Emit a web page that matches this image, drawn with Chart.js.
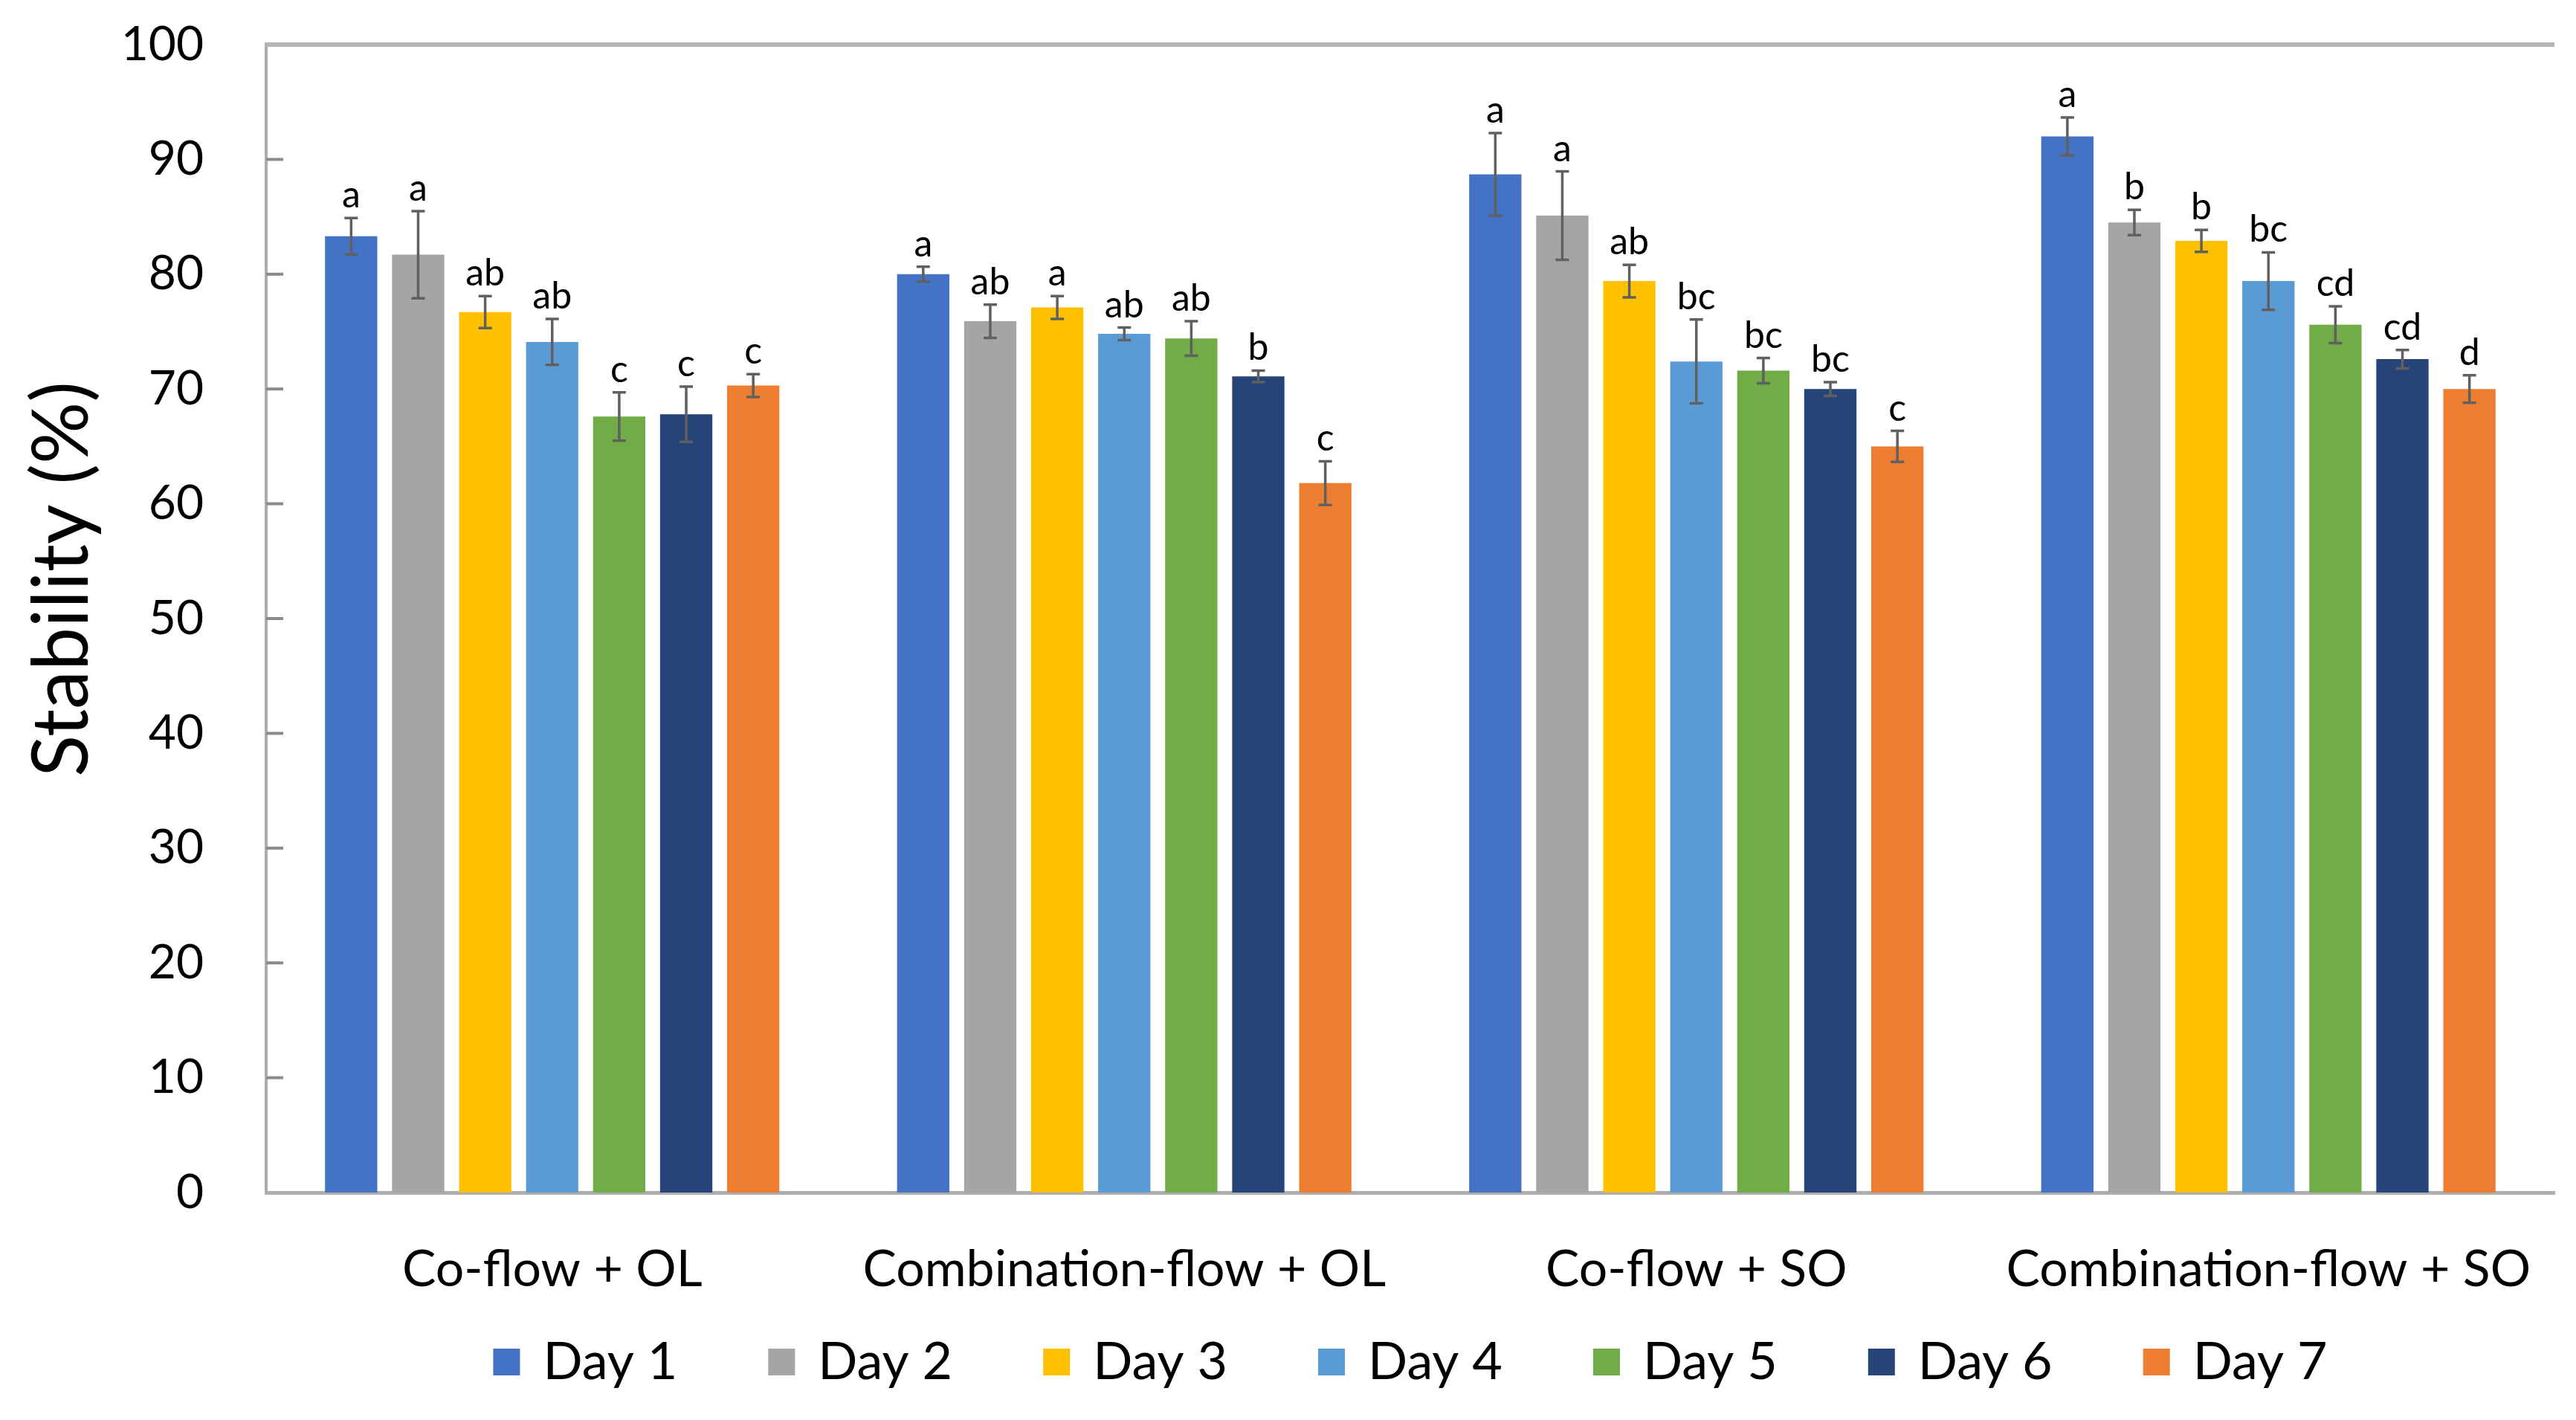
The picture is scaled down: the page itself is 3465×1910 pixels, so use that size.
<!DOCTYPE html>
<html>
<head>
<meta charset="utf-8">
<script src="https://cdn.jsdelivr.net/npm/chart.js@4.4.1/dist/chart.umd.min.js"></script>
<style>
  html, body { margin: 0; padding: 0; background: #ffffff; }
  #wrap { width: 3465px; height: 1910px; }
</style>
</head>
<body>
<div id="wrap"><canvas id="c" width="3465" height="1910"></canvas></div>
<script>
const categories = ['Co-flow + OL', 'Combination-flow + OL', 'Co-flow + SO', 'Combination-flow + SO'];
const seriesNames = ['Day 1', 'Day 2', 'Day 3', 'Day 4', 'Day 5', 'Day 6', 'Day 7'];
const yTicks = [0, 10, 20, 30, 40, 50, 60, 70, 80, 90, 100];
const yTitle = 'Stability (%)';

const day1 = [83.3, 80.0, 88.7, 92.0];
const day2 = [81.7, 75.9, 85.1, 84.5];
const day3 = [76.7, 77.1, 79.4, 82.9];
const day4 = [74.1, 74.8, 72.4, 79.4];
const day5 = [67.6, 74.4, 71.6, 75.6];
const day6 = [67.8, 71.1, 70.0, 72.6];
const day7 = [70.3, 61.8, 65.0, 70.0];

const err1 = [1.6, 0.65, 3.6, 1.65];
const err2 = [3.8, 1.45, 3.85, 1.1];
const err3 = [1.4, 1.0, 1.42, 0.95];
const err4 = [2.0, 0.55, 3.65, 2.5];
const err5 = [2.1, 1.5, 1.1, 1.6];
const err6 = [2.4, 0.5, 0.6, 0.8];
const err7 = [1.0, 1.9, 1.35, 1.2];

const let1 = ['a', 'a', 'a', 'a'];
const let2 = ['a', 'ab', 'a', 'b'];
const let3 = ['ab', 'a', 'ab', 'b'];
const let4 = ['ab', 'ab', 'bc', 'bc'];
const let5 = ['c', 'ab', 'bc', 'cd'];
const let6 = ['c', 'b', 'bc', 'cd'];
const let7 = ['c', 'c', 'c', 'd'];

const values = [day1, day2, day3, day4, day5, day6, day7];
const errors = [err1, err2, err3, err4, err5, err6, err7];
const letters = [let1, let2, let3, let4, let5, let6, let7];
const colors = ['#4472C4', '#A5A5A5', '#FFC000', '#5B9BD5', '#70AD47', '#264478', '#ED7D31'];

const FONT = 'Lato, "Open Sans", sans-serif';
Chart.defaults.font.family = FONT;
Chart.defaults.color = '#000000';

const AXIS_GRAY = '#ADADAD';

const decorPlugin = {
  id: 'decor',
  afterDraw(chart) {
    const ctx = chart.ctx;
    const area = chart.chartArea;
    const ys = chart.scales.y;
    ctx.save();
    // top border
    ctx.strokeStyle = '#B4B4B4';
    ctx.lineWidth = 6;
    ctx.beginPath();
    ctx.moveTo(area.left - 2, area.top);
    ctx.lineTo(area.right, area.top);
    ctx.stroke();
    // inward y tick marks
    ctx.strokeStyle = '#8A8A8A';
    ctx.lineWidth = 4;
    yTicks.forEach(v => {
      if (v === 0 || v === 100) return;
      const py = ys.getPixelForValue(v);
      ctx.beginPath();
      ctx.moveTo(area.left, py);
      ctx.lineTo(area.left + 23, py);
      ctx.stroke();
    });
    // y title
    ctx.save();
    ctx.fillStyle = '#000';
    ctx.font = '104px ' + FONT;
    ctx.textAlign = 'center';
    ctx.textBaseline = 'middle';
    ctx.translate(84, ys.getPixelForValue(50) - 53);
    ctx.rotate(-Math.PI / 2);
    ctx.fillText(yTitle, 0, 0);
    ctx.restore();
    // legend (from dataset labels / colours)
    const boxSize = 36, textGap = 31, itemGap = 122, legendY = 1832;
    ctx.font = '70px ' + FONT;
    const items = chart.data.datasets.map(ds => ({
      text: ds.label, color: ds.backgroundColor, w: ctx.measureText(ds.label).width
    }));
    let total = 0;
    items.forEach((it, k) => { total += boxSize + textGap + it.w + (k < items.length - 1 ? itemGap : 0); });
    let x = (area.left + area.right) / 2 - total / 2;
    ctx.textAlign = 'left';
    ctx.textBaseline = 'middle';
    items.forEach(it => {
      ctx.fillStyle = it.color;
      ctx.fillRect(x, legendY - boxSize / 2, boxSize, boxSize);
      ctx.fillStyle = '#000';
      ctx.fillText(it.text, x + boxSize + textGap, legendY);
      x += boxSize + textGap + it.w + itemGap;
    });
    ctx.restore();
  },
  afterDatasetsDraw(chart) {
    const ctx = chart.ctx;
    const ys = chart.scales.y;
    ctx.save();
    chart.data.datasets.forEach((ds, i) => {
      const meta = chart.getDatasetMeta(i);
      meta.data.forEach((bar, j) => {
        const v = values[i][j];
        const e = errors[i][j];
        const x = bar.x;
        const yTop = ys.getPixelForValue(v + e);
        const yBot = ys.getPixelForValue(v - e);
        ctx.strokeStyle = '#606060';
        ctx.lineWidth = 3.5;
        ctx.beginPath();
        ctx.moveTo(x, yTop); ctx.lineTo(x, yBot);
        ctx.moveTo(x - 9, yTop); ctx.lineTo(x + 9, yTop);
        ctx.moveTo(x - 9, yBot); ctx.lineTo(x + 9, yBot);
        ctx.stroke();
        ctx.fillStyle = '#000';
        ctx.font = '50px ' + FONT;
        ctx.textAlign = 'center';
        ctx.textBaseline = 'alphabetic';
        ctx.fillText(letters[i][j], x, yTop - 14);
      });
    });
    ctx.restore();
  }
};

new Chart(document.getElementById('c'), {
  type: 'bar',
  data: {
    labels: categories,
    datasets: seriesNames.map((name, i) => ({
      label: name,
      data: values[i],
      backgroundColor: colors[i],
      borderWidth: 0,
      categoryPercentage: 0.82,
      barPercentage: 0.78
    }))
  },
  options: {
    responsive: false,
    devicePixelRatio: 1,
    animation: false,
    layout: { padding: { left: 0, right: 29, top: 60, bottom: 146 } },
    plugins: {
      legend: { display: false },
      tooltip: { enabled: false },
      title: { display: false }
    },
    scales: {
      x: {
        grid: { display: false, drawTicks: false, tickLength: 0 },
        border: { display: true, color: AXIS_GRAY, width: 5 },
        ticks: { font: { size: 68 }, color: '#000', padding: 63, maxRotation: 0, autoSkip: false },
        afterFit(scale) { scale.height = 160; scale.paddingLeft = 0; scale.paddingRight = 0; }
      },
      y: {
        min: 0,
        max: 100,
        grid: { display: false, drawTicks: false, tickLength: 0 },
        border: { display: true, color: AXIS_GRAY, width: 4 },
        ticks: { stepSize: 10, font: { size: 64 }, color: '#000', padding: 84 },
        afterFit(scale) { scale.width = 358; scale.paddingTop = 0; scale.paddingBottom = 0; }
      }
    }
  },
  plugins: [decorPlugin]
});
</script>
</body>
</html>
